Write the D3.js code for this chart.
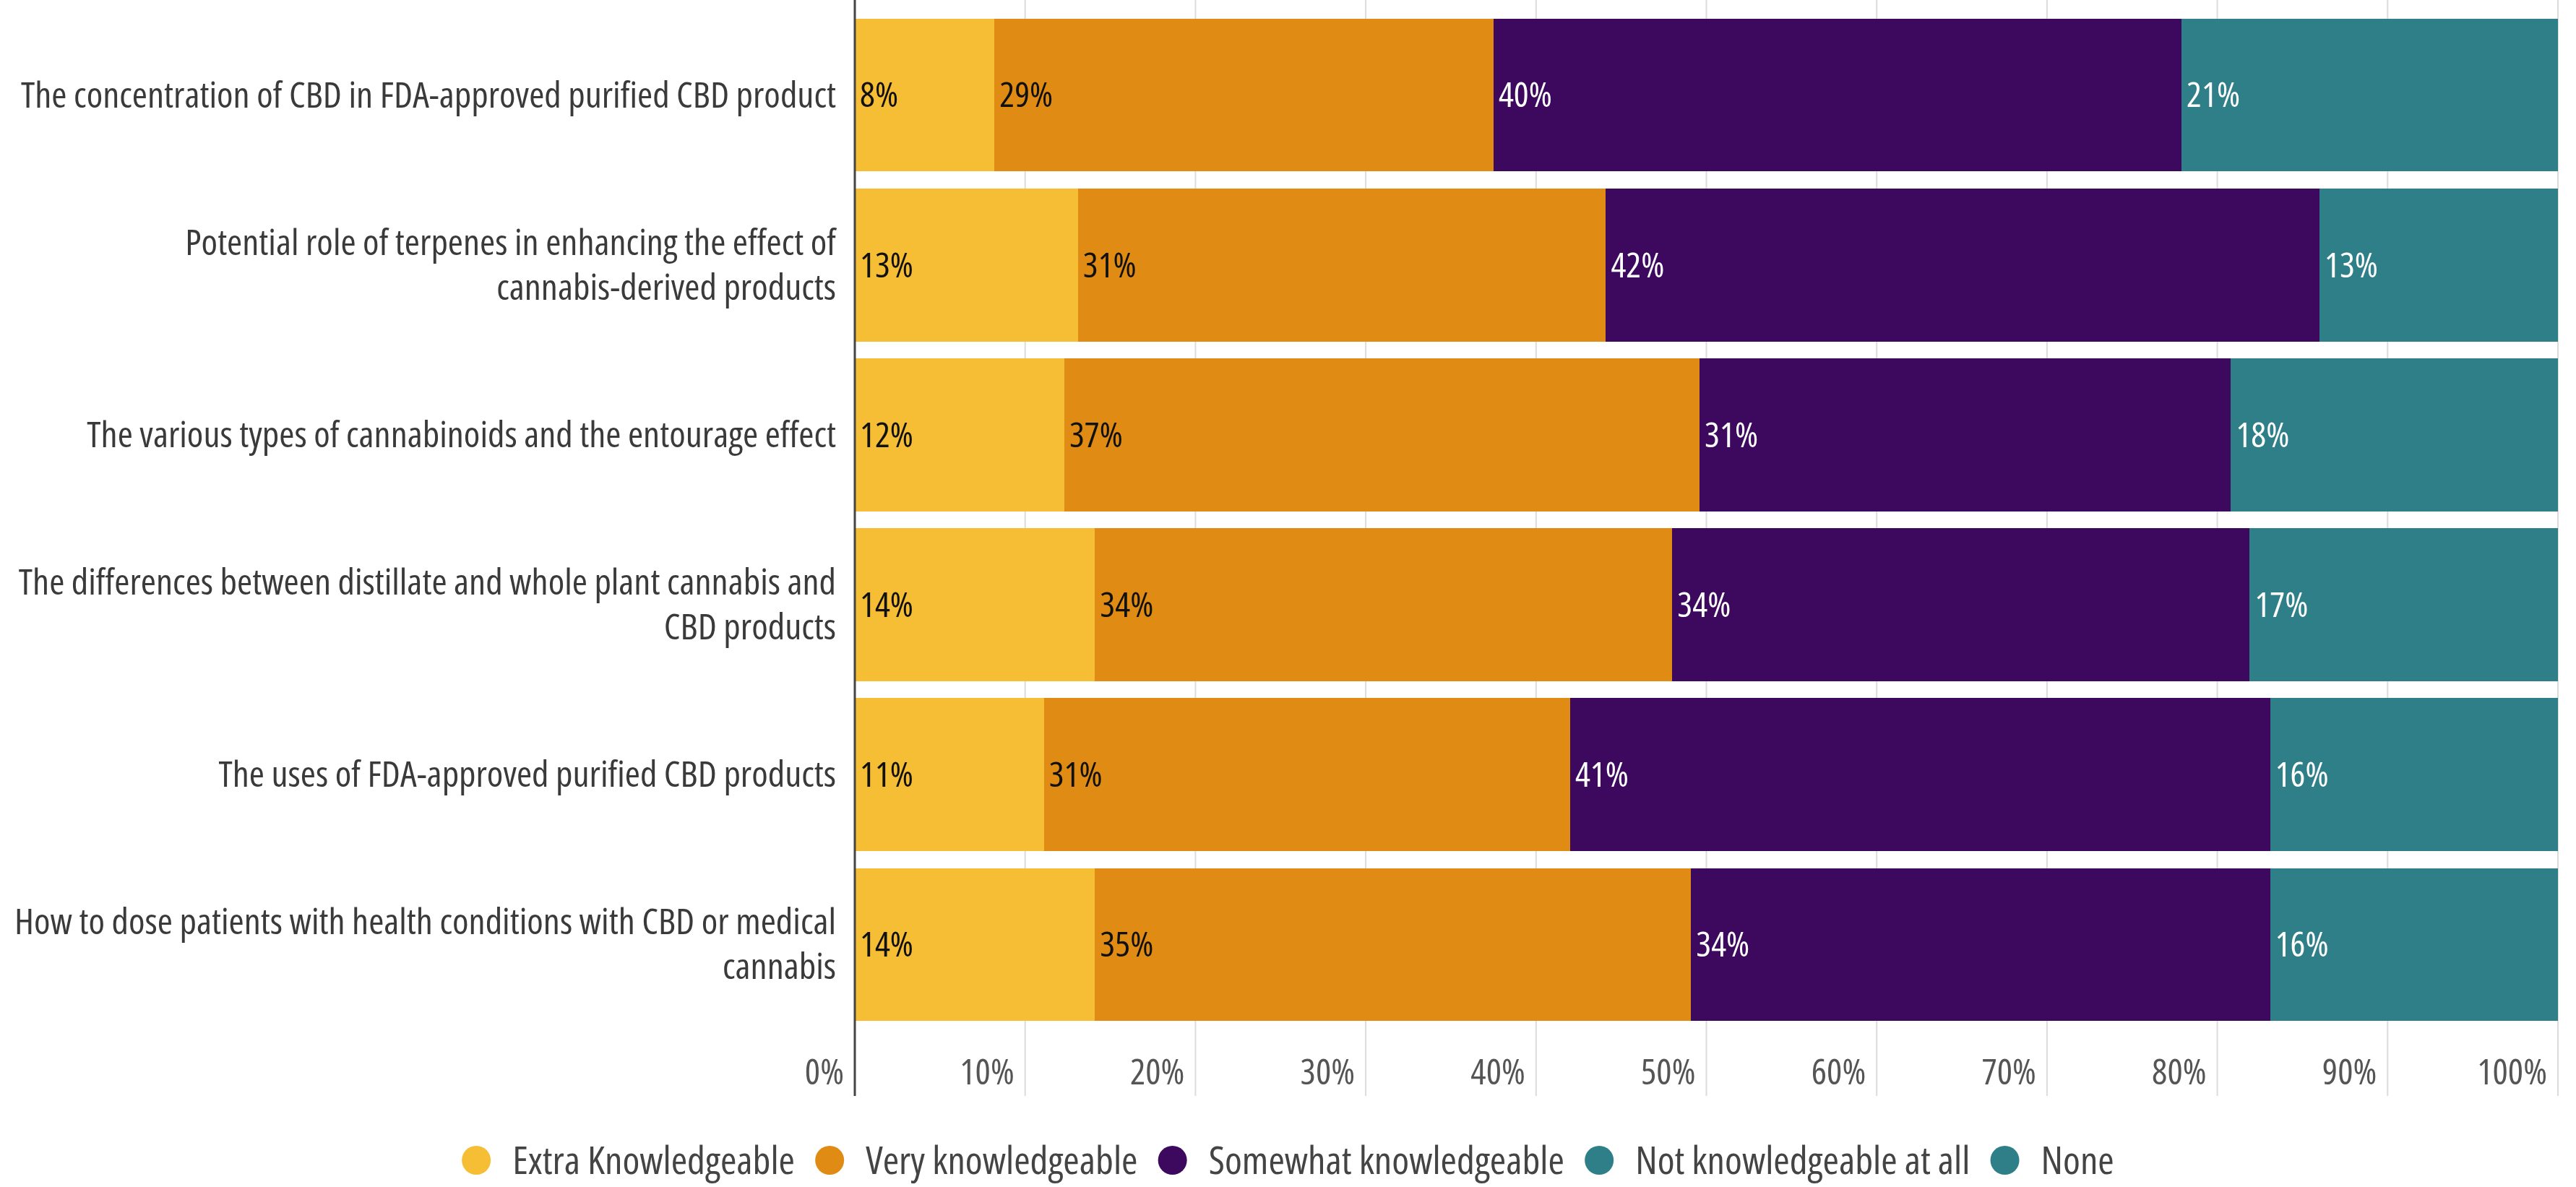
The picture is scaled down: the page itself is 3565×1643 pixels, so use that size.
<!DOCTYPE html>
<html>
<head>
<meta charset="utf-8">
<script src="https://cdn.jsdelivr.net/npm/d3@7"></script>
<style>
  html, body { margin: 0; padding: 0; background: #ffffff; }
  svg { display: block; }
  text { font-family: "Open Sans", "Noto Sans", "Liberation Sans", sans-serif; font-stretch: 75%; }
</style>
</head>
<body>
<script>
// ---------- DATA ----------
const categories = [
  "The concentration of CBD in FDA-approved purified CBD product",
  "Potential role of terpenes in enhancing the effect of\ncannabis-derived products",
  "The various types of cannabinoids and the entourage effect",
  "The differences between distillate and whole plant cannabis and\nCBD products",
  "The uses of FDA-approved purified CBD products",
  "How to dose patients with health conditions with CBD or medical\ncannabis"
];
const seriesNames = ["Extra Knowledgeable", "Very knowledgeable", "Somewhat knowledgeable", "Not knowledgeable at all", "None"];
const seriesColors = ["#F6BE34", "#E08C14", "#3D095E", "#2E7F88", "#2E7F88"];
const labelColors = ["#111111", "#111111", "#ffffff", "#ffffff", "#ffffff"];
const extraValues    = [8.2, 13.1, 12.3, 14.1, 11.1, 14.1];
const veryValues     = [29.3, 31.0, 37.3, 33.9, 30.9, 35.0];
const somewhatValues = [40.4, 41.9, 31.2, 33.9, 41.1, 34.0];
const notAtAllValues = [20.6, 12.9, 18.1, 16.9, 15.9, 15.9];
const noneValues     = [1.5, 1.1, 1.1, 1.2, 1.0, 1.0];
const tickValues = [0, 10, 20, 30, 40, 50, 60, 70, 80, 90, 100];
const tickLabels = ["0%", "10%", "20%", "30%", "40%", "50%", "60%", "70%", "80%", "90%", "100%"];

// ---------- LAYOUT ----------
const W = 3565, H = 1643;
const x0 = 1183, x1 = 3540;
const plotTop = 0, plotBottom = 1517;
const bandTop = 14, bandBottom = 1425;
const catSize = 50, tickSize = 49, barLabelSize = 48, legendSize = 53;

const svg = d3.select("body").append("svg").attr("width", W).attr("height", H);

// horizontal condensation factor so the text has the narrow look of the reference
const probe = svg.append("text").attr("font-size", catSize).text(categories[0]);
const k = 1128 / probe.node().getComputedTextLength();
probe.remove();
const place = (xx, yy) => `translate(${xx},${yy}) scale(${k},1)`;

const keys = seriesNames;
const rows = categories.map((c, i) => ({
  cat: c,
  [keys[0]]: extraValues[i],
  [keys[1]]: veryValues[i],
  [keys[2]]: somewhatValues[i],
  [keys[3]]: notAtAllValues[i],
  [keys[4]]: noneValues[i]
}));
const stacked = d3.stack().keys(keys)(rows);

const x = d3.scaleLinear().domain([0, 100]).range([x0, x1]);
const y = d3.scaleBand().domain(categories).range([bandTop, bandBottom]).paddingInner(0.1).paddingOuter(0.05);
const color = d3.scaleOrdinal().domain(keys).range(seriesColors);

// gridlines
svg.append("g").selectAll("line").data(tickValues.filter(d => d > 0)).join("line")
  .attr("x1", d => x(d)).attr("x2", d => x(d))
  .attr("y1", plotTop).attr("y2", plotBottom)
  .attr("stroke", "#dcdcdc").attr("stroke-width", 2);

// bars
const layer = svg.append("g").attr("shape-rendering", "crispEdges")
  .selectAll("g").data(stacked).join("g")
  .attr("fill", d => color(d.key));
layer.selectAll("rect").data(d => d).join("rect")
  .attr("x", d => x(d[0]))
  .attr("width", d => x(d[1]) - x(d[0]))
  .attr("y", d => y(d.data.cat))
  .attr("height", y.bandwidth());

// bar value labels
const lab = svg.append("g").selectAll("g").data(stacked).join("g")
  .attr("fill", (d, i) => labelColors[i]);
lab.selectAll("text").data(d => d.filter(s => (s[1] - s[0]) >= 3)).join("text")
  .attr("transform", d => place(x(d[0]) + 7, y(d.data.cat) + y.bandwidth() / 2))
  .attr("dy", "0.35em")
  .attr("font-size", barLabelSize)
  .text(d => d3.format(".0f")(d[1] - d[0]) + "%");

// axis line
svg.append("line")
  .attr("x1", x(0)).attr("x2", x(0)).attr("y1", plotTop).attr("y2", plotBottom)
  .attr("stroke", "#444444").attr("stroke-width", 3);

// category labels
const cl = svg.append("g").selectAll("text").data(categories).join("text")
  .attr("text-anchor", "end")
  .attr("fill", "#3a3a3a")
  .attr("font-size", catSize)
  .attr("transform", d => place(x(0) - 26, y(d) + y.bandwidth() / 2));
cl.each(function(d) {
  const lines = d.split("\n");
  const lh = 62;
  const t = d3.select(this);
  lines.forEach((ln, i) => {
    t.append("tspan").attr("x", 0)
      .attr("dy", i === 0 ? ((-(lines.length - 1) * lh / 2) + 17) : lh)
      .text(ln);
  });
});

// tick labels
svg.append("g").selectAll("text").data(tickValues).join("text")
  .attr("text-anchor", "end")
  .attr("fill", "#555555")
  .attr("font-size", tickSize)
  .attr("transform", d => place(x(d) - 15, 1484))
  .attr("dy", "0.35em")
  .text((d, i) => tickLabels[i]);

// legend
const legendY = 1606;
const r = 20;
const lg = svg.append("g");
const items = lg.selectAll("g").data(seriesNames).join("g");
items.append("circle").attr("r", r).attr("cy", legendY).attr("fill", (d, i) => seriesColors[i]);
items.append("text").attr("dy", "0.35em")
  .attr("font-size", legendSize).attr("fill", "#444444").text(d => d);
let cx = 0;
const gapCT = 30, gapTC = 28;
const positions = [];
items.each(function(d) {
  const tw = d3.select(this).select("text").node().getComputedTextLength() * k;
  positions.push({ cx: cx + r, tx: cx + 2 * r + gapCT });
  cx += 2 * r + gapCT + tw + gapTC;
});
const totalW = cx - gapTC;
const offset = W / 2 - totalW / 2;
items.each(function(d, i) {
  const g = d3.select(this);
  g.select("circle").attr("cx", offset + positions[i].cx);
  g.select("text").attr("transform", place(offset + positions[i].tx, legendY));
});
</script>
</body>
</html>
